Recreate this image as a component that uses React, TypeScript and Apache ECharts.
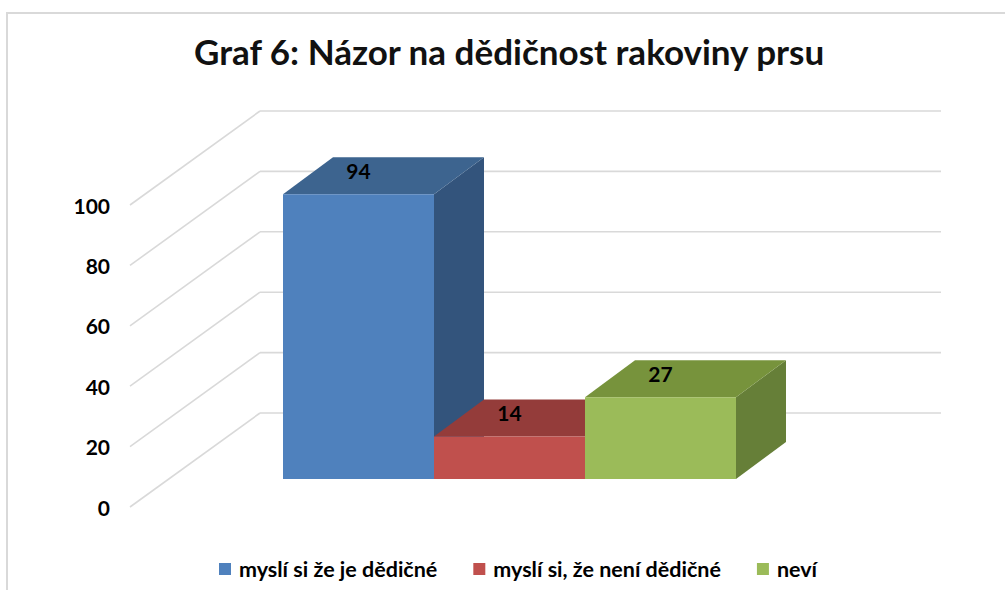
import React, { useEffect, useRef } from "react";
import * as echarts from "echarts";

const categories = ["myslí si že je dědičné", "myslí si, že není dědičné", "neví"];
const values = [94, 14, 27];
const yTicks = [0, 20, 40, 60, 80, 100];
const frontColors = ["#4f81bd", "#c0504d", "#9bbb59"];
const topColors = ["#3d648f", "#943c3a", "#77933c"];
const sideColors = ["#33547c", "#7f3230", "#667f38"];

const FONT = "Lato";
const DEPTH_X = 50;
const DEPTH_Y = -37;
const WALL_DX = 130;
const WALL_DY = -94;
const WALL_RIGHT = 941;
const GRID_COLOR = "#d9d9d9";

export default function App() {
  const ref = useRef<HTMLDivElement>(null);
  useEffect(() => {
    if (!ref.current) return;
    const chart = echarts.init(ref.current, null, { renderer: "svg" });

    const barSeries = categories.map((name, i) => ({
      type: "custom",
      name,
      xAxisIndex: 0,
      yAxisIndex: 0,
      itemStyle: { color: frontColors[i] },
      data: [[i, values[i]]],
      z: 3,
      renderItem: (params: any, api: any) => {
        const x = api.value(0);
        const v = api.value(1);
        const top = api.coord([x, v]);
        const base = api.coord([x, 0]);
        const w = api.size([1, 0])[0];
        const x0 = top[0] - w / 2;
        const x1 = top[0] + w / 2;
        const yT = top[1];
        const yB = base[1];
        return {
          type: "group",
          children: [
            {
              type: "polygon",
              shape: {
                points: [
                  [x1, yT],
                  [x1 + DEPTH_X, yT + DEPTH_Y],
                  [x1 + DEPTH_X, yB + DEPTH_Y],
                  [x1, yB],
                ],
              },
              style: { fill: sideColors[i] },
            },
            {
              type: "polygon",
              shape: {
                points: [
                  [x0, yT],
                  [x1, yT],
                  [x1 + DEPTH_X, yT + DEPTH_Y],
                  [x0 + DEPTH_X, yT + DEPTH_Y],
                ],
              },
              style: { fill: topColors[i] },
            },
            {
              type: "rect",
              shape: { x: x0, y: yT, width: w, height: yB - yT },
              style: { fill: frontColors[i] },
            },
            {
              type: "text",
              x: top[0],
              y: yT - 24,
              style: {
                text: String(v),
                fontSize: 21,
                fontWeight: "bold",
                fontFamily: FONT,
                fill: "#000",
                align: "center",
                verticalAlign: "middle",
              },
            },
          ],
        };
      },
    }));

    const wallSeries = {
      type: "custom",
      name: "walls",
      xAxisIndex: 1,
      yAxisIndex: 1,
      z: 1,
      silent: true,
      data: yTicks.map((v) => [0, v]),
      renderItem: (params: any, api: any) => {
        const p = api.coord([0, api.value(1)]);
        const bx = p[0] + WALL_DX;
        const by = p[1] + WALL_DY;
        return {
          type: "group",
          children: [
            {
              type: "line",
              shape: { x1: p[0], y1: p[1], x2: bx, y2: by },
              style: { stroke: GRID_COLOR, lineWidth: 1.6 },
            },
            {
              type: "line",
              shape: { x1: bx, y1: by, x2: WALL_RIGHT, y2: by },
              style: { stroke: GRID_COLOR, lineWidth: 1.6 },
            },
          ],
        };
      },
    };

    const option: any = {
      animation: false,
      backgroundColor: "#ffffff",
      title: {
        text: "Graf 6: Názor na dědičnost rakoviny prsu",
        left: 189,
        top: 28,
        textStyle: {
          fontFamily: FONT,
          fontSize: 35,
          fontWeight: "bold",
          color: "#111",
        },
      },
      legend: {
        data: categories,
        left: 214,
        top: 553,
        icon: "rect",
        itemWidth: 12,
        itemHeight: 12,
        itemGap: 36,
        textStyle: {
          fontFamily: FONT,
          fontSize: 21.5,
          fontWeight: "bold",
          color: "#000",
          padding: [0, 0, 0, 3],
        },
      },
      grid: [
        { left: 283, top: 176, width: 453, height: 303 },
        { left: 130, top: 205, width: 10, height: 302 },
      ],
      xAxis: [
        { type: "category", gridIndex: 0, data: categories, show: false, boundaryGap: true },
        { type: "value", gridIndex: 1, min: 0, max: 1, show: false },
      ],
      yAxis: [
        { type: "value", gridIndex: 0, min: 0, max: 100, interval: 20, show: false },
        {
          type: "value",
          gridIndex: 1,
          min: 0,
          max: 100,
          interval: 20,
          axisLine: { show: false },
          axisTick: { show: false },
          splitLine: { show: false },
          axisLabel: {
            margin: 20,
            fontFamily: FONT,
            fontSize: 21,
            fontWeight: "bold",
            color: "#000",
          },
        },
      ],
      graphic: [
        {
          type: "rect",
          shape: { x: 7, y: 13, width: 1010, height: 600 },
          style: { fill: "none", stroke: GRID_COLOR, lineWidth: 2 },
          silent: true,
          z: -1,
        },
      ],
      series: [wallSeries, ...barSeries],
    };
    chart.setOption(option);
    return () => chart.dispose();
  }, []);
  return (
    <div
      ref={ref}
      style={{ position: "fixed", left: 0, top: 0, width: 1005, height: 590 }}
    />
  );
}
